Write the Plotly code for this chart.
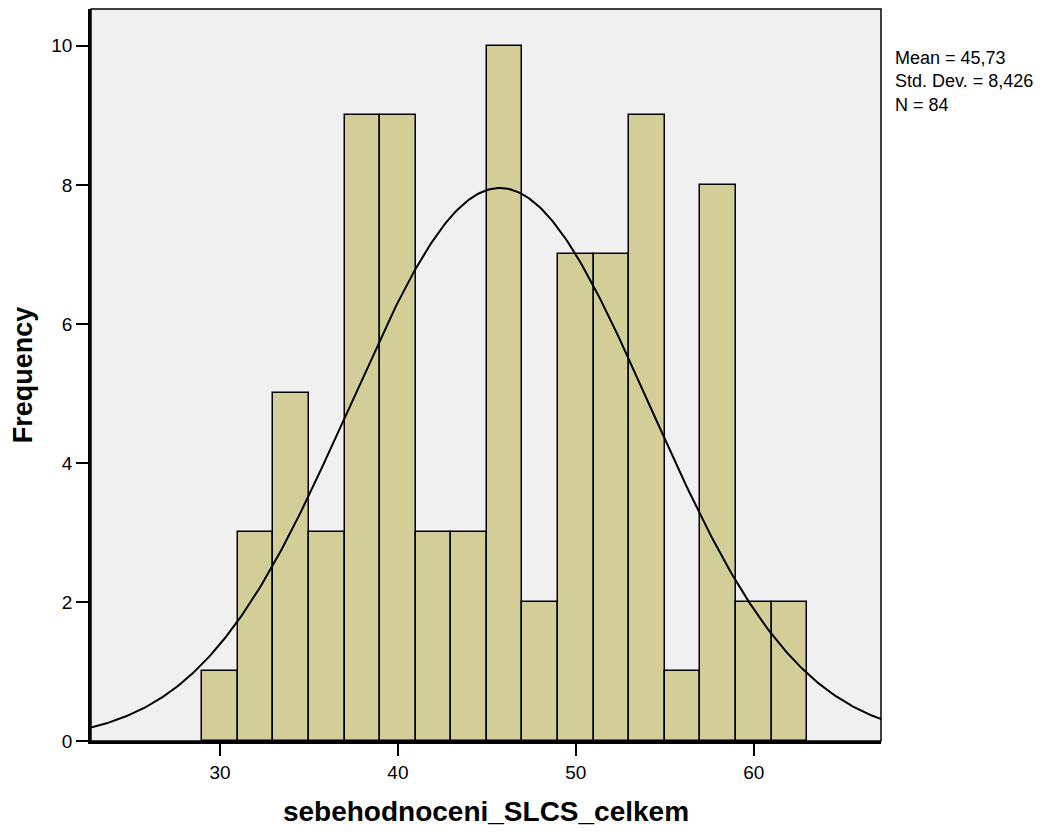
import numpy as np
import plotly.graph_objects as go

bin_starts = [29, 31, 33, 35, 37, 39, 41, 43, 45, 47, 49, 51, 53, 55, 57, 59, 61]
counts = [1, 3, 5, 3, 9, 9, 3, 3, 10, 2, 7, 7, 9, 1, 8, 2, 2]
bin_width = 2
mean_val = 45.73
std_val = 8.426
n_val = 84
x_ticks = [30, 40, 50, 60]
y_ticks = [0, 2, 4, 6, 8, 10]
stat_lines = [f"Mean = {str(mean_val).replace('.', ',')}",
              f"Std. Dev. = {str(std_val).replace('.', ',')}",
              f"N = {n_val}"]

centers = [s + bin_width / 2 for s in bin_starts]
xs = np.linspace(22.5, 67.5, 400)
ys = n_val * bin_width * np.exp(-0.5 * ((xs - mean_val) / std_val) ** 2) / (std_val * np.sqrt(2 * np.pi))

fig = go.Figure()
fig.add_trace(go.Bar(x=centers, y=counts, width=bin_width,
                     marker=dict(color="#d3ce98", line=dict(color="black", width=1.5)),
                     hoverinfo="x+y"))
fig.add_trace(go.Scatter(x=xs, y=ys, mode="lines", line=dict(color="black", width=2),
                         hoverinfo="skip"))

font = "Liberation Sans, Arial, sans-serif"
fig.update_layout(
    width=1061, height=836,
    margin=dict(l=83, r=188, t=1, b=103),
    paper_bgcolor="white", plot_bgcolor="#f0f0f0",
    showlegend=False,
    font=dict(family=font, color="black", size=19),
    bargap=0,
)
fig.update_xaxes(range=[22.75, 67.15], tickvals=x_ticks, ticks="outside", ticklen=12,
                 tickwidth=1.5, tickcolor="black", showgrid=False, zeroline=False,
                 showline=True, linecolor="black", linewidth=2.5, mirror=False,
                 tickfont=dict(size=19),
                 title=dict(text="<b>sebehodnoceni_SLCS_celkem</b>", font=dict(size=28), standoff=20))
fig.update_yaxes(range=[0, 10.53], tickvals=y_ticks, ticks="outside", ticklen=12,
                 tickwidth=1.5, tickcolor="black", showgrid=False, zeroline=False,
                 showline=True, linecolor="black", linewidth=2.5, mirror=False,
                 tickfont=dict(size=19),
                 title=dict(text="<b>Frequency</b>", font=dict(size=27), standoff=22))
fig.add_shape(type="rect", xref="paper", yref="paper", x0=0, y0=0, x1=1, y1=1,
              line=dict(color="black", width=1.5), layer="above")
fig.add_annotation(xref="paper", yref="paper", x=1.015, y=0.9015,
                   xanchor="left", yanchor="middle", showarrow=False, align="left",
                   text="<br>".join(stat_lines), font=dict(size=18))
fig.write_html("out.html")
